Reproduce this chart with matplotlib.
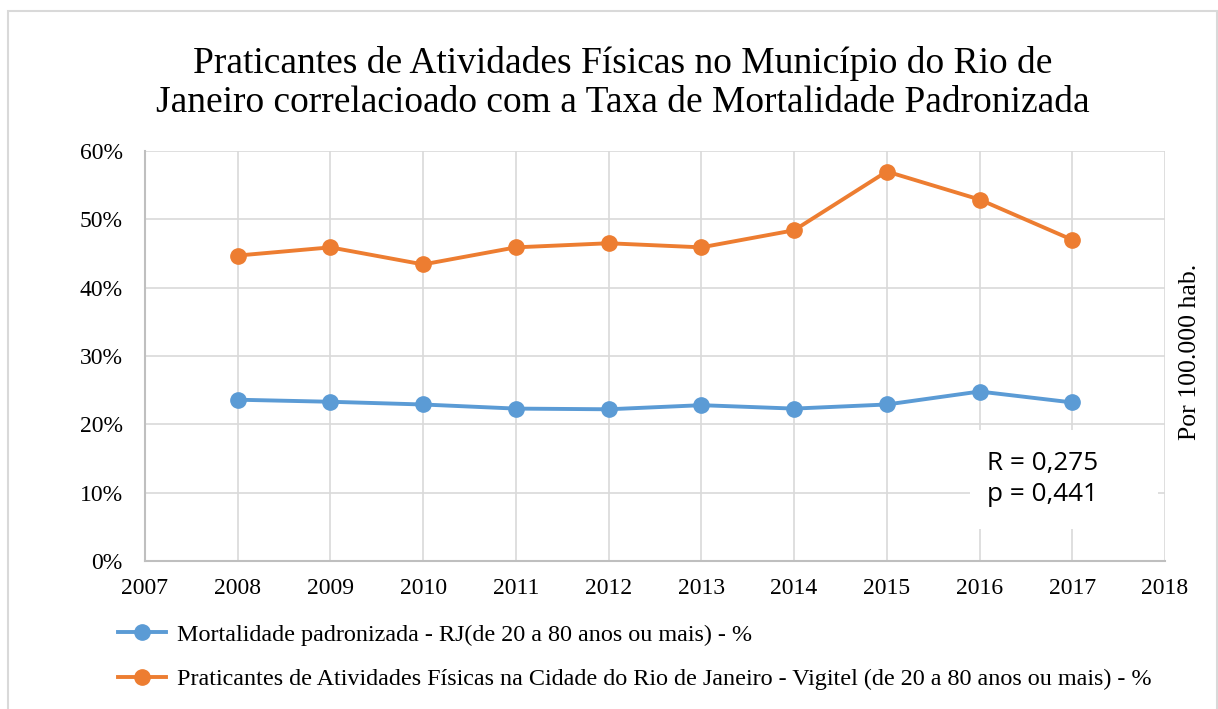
import matplotlib.pyplot as plt
from matplotlib.patches import Rectangle
from matplotlib.ticker import PercentFormatter

anos = [2008, 2009, 2010, 2011, 2012, 2013, 2014, 2015, 2016, 2017]
mortalidade = [23.6, 23.3, 22.9, 22.3, 22.2, 22.8, 22.3, 22.9, 24.8, 23.2]
praticantes = [44.7, 45.9, 43.4, 45.9, 46.5, 45.9, 48.4, 57.0, 52.9, 47.0]

titulo = ("Praticantes de Atividades Físicas no Município do Rio de\n"
          "Janeiro correlacioado com a Taxa de Mortalidade Padronizada")
rotulo_mort = "Mortalidade padronizada - RJ(de 20 a 80 anos ou mais) - %"
rotulo_prat = ("Praticantes de Atividades Físicas na Cidade do Rio de Janeiro - "
               "Vigitel (de 20 a 80 anos ou mais) - %")
anotacao = "R = 0,275\np = 0,441"

plt.rcParams['font.family'] = ['Liberation Serif', 'DejaVu Serif']

fig = plt.figure(figsize=(12.18, 7.09), dpi=100)
ax = fig.add_axes([0.1190, 0.2088, 0.8375, 0.5782])

ax.plot(anos, mortalidade, color='#5B9BD5', lw=2.8, marker='o', ms=11,
        label=rotulo_mort, zorder=3)
ax.plot(anos, praticantes, color='#ED7D31', lw=2.8, marker='o', ms=11,
        label=rotulo_prat, zorder=3)

ax.set_xlim(2007, 2018)
ax.set_ylim(0, 60)
ax.set_xticks(range(2007, 2019))
ax.set_yticks(range(0, 61, 10))
ax.yaxis.set_major_formatter(PercentFormatter(decimals=0))
ax.grid(True, color='#d9d9d9', lw=1.2, zorder=0)
ax.set_axisbelow(True)
for lado in ['top', 'right']:
    ax.spines[lado].set_visible(False)
ax.spines['left'].set_color('#bfbfbf')
ax.spines['bottom'].set_color('#bfbfbf')
ax.spines['left'].set_linewidth(1.5)
ax.spines['bottom'].set_linewidth(1.5)
ax.tick_params(length=0, labelsize=17, colors='black')
ax.tick_params(axis='y', pad=16)
ax.tick_params(axis='x', pad=12)

# caixa branca da correlacao
ax.add_patch(Rectangle((0.809, 0.078), 0.184, 0.241, transform=ax.transAxes,
                       facecolor='white', edgecolor='none', zorder=1))
ax.text(0.825, 0.200, anotacao, transform=ax.transAxes, fontsize=18.8,
        family=['Open Sans', 'DejaVu Sans'], va='center', ha='left',
        linespacing=1.3, zorder=4)

fig.text(1190 / 1218, 1 - 352 / 709, "Por 100.000 hab.", rotation=90,
         ha='center', va='center', fontsize=18.5)
fig.text(623 / 1218, 1 - 83 / 709, titulo, ha='center', va='center',
         fontsize=27, linespacing=1.15)

fig.legend(loc='upper left', bbox_to_anchor=(108 / 1218, 1 - 614 / 709),
           frameon=False, fontsize=17.4, handlelength=2.0, handletextpad=0.45,
           labelspacing=0.95, borderaxespad=0)

fig.add_artist(Rectangle((8 / 1218, -0.01), 1209 / 1218, 1.01 - 11 / 709,
                         transform=fig.transFigure, facecolor='none',
                         edgecolor='#d9d9d9', lw=1.5))

fig.savefig('out.png', dpi=100)
